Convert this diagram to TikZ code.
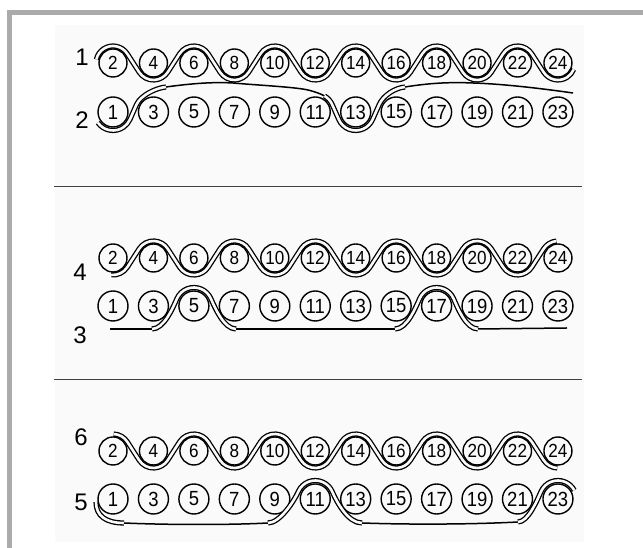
\documentclass[tikz,border=0pt]{standalone}
\usepackage{fontspec}
\setmainfont{Liberation Sans}
\newfontfamily\pegfont[FakeStretch=0.9]{Liberation Sans}
\usetikzlibrary{calc}

\definecolor{paper}{gray}{0.982}
\definecolor{framegray}{gray}{0.67}

\begin{document}
\begin{tikzpicture}[x=1pt, y=1pt,
    evenpeg/.style={circle, draw, line width=1.4pt, minimum size=28pt, inner sep=0pt,
      font=\pegfont\fontsize{19}{19}\selectfont},
    oddpeg/.style={circle, draw, line width=1.4pt, minimum size=30pt, inner sep=0pt,
      font=\pegfont\fontsize{20.5}{20.5}\selectfont},
    rowlabel/.style={font=\fontsize{24}{24}\selectfont},
    wire/.style={draw=black, line width=1.3pt, double=paper, double distance=2.6pt,
      line join=round},
    cord/.style={line width=1.5pt},
    rule/.style={line width=1pt, black!75}]
  \useasboundingbox (0,0) rectangle (643,548);
  \fill[white] (0,0) rectangle (643,548);
  \fill[paper] (55,6) rectangle (584,523);
  \fill[framegray] (7,533) rectangle (643,538);
  \fill[framegray] (7,0) rectangle (12,538);

  % pegs: a = rows 1/2, b = rows 4/3, c = rows 6/5
  \foreach \s/\ye/\yo in {a/485/436, b/290/242, c/97/49} {
    \foreach \k [evaluate=\k as \ev using int(2*\k+2),
                 evaluate=\k as \od using int(2*\k+1)] in {0,...,11} {
      \node[evenpeg] (\s\ev) at (113+40.45*\k, \ye) {\ev};
      \node[oddpeg] (\s\od) at (113+40.45*\k, \yo) {\od};
    }
  }

  \node[rowlabel] (r1) at (82,491) {1};
  \node[rowlabel] (r2) at (82,428) {2};
  \node[rowlabel] (r4) at (80,276) {4};
  \node[rowlabel] (r3) at (80,213) {3};
  \node[rowlabel] (r6) at (81,111) {6};
  \node[rowlabel] (r5) at (81,46) {5};

  \draw[rule] (54,361.5) -- (582,361.5);
  \draw[rule] (54,168) -- (582,168);

  % rows 1/2
  \draw[wire] ($(a2)+(168:17)$) arc[start angle=168, end angle=32.8, radius=17]
    \foreach \i/\j in {4/6, 8/10, 12/14, 16/18, 20/22} {
      -- ($(a\i)+(212.8:17)$) arc[start angle=212.8, end angle=327.2, radius=17]
      -- ($(a\j)+(147.2:17)$) arc[start angle=147.2, end angle=32.8, radius=17]
    }
    -- ($(a24)+(212.8:17)$) arc[start angle=212.8, end angle=338, radius=17];
  \draw[wire] ($(a1)+(215:18.5)$) arc[start angle=215, end angle=336.2, radius=18.5]
    -- ($(a3)+(156.2:18.5)$) .. controls +(66.2:10) and +(185:10) .. (166,461);
  \draw[cord] (166,461) .. controls (195,465) and (215,466) .. (233,465)
    .. controls (255,463) and (295,461) .. (308,458)
    .. controls (316,456) and (321,454) .. ($(a11)+(60:18.5)$);
  \draw[wire] ($(a11)+(60:18.5)$) arc[start angle=60, end angle=23.8, radius=18.5]
    -- ($(a13)+(203.8:18.5)$) arc[start angle=203.8, end angle=336.2, radius=18.5]
    -- ($(a15)+(156.2:18.5)$) .. controls +(66.2:10) and +(185:10) .. (405,461);
  \draw[cord] (405,461) .. controls (430,465) and (450,466) .. (473,465)
    .. controls (505,464) and (545,459) .. (573,455);

  % rows 4/3
  \draw[wire] ($(b2)+(264:17)$) arc[start angle=264, end angle=327.2, radius=17]
    \foreach \i/\j in {4/6, 8/10, 12/14, 16/18, 20/22} {
      -- ($(b\i)+(147.2:17)$) arc[start angle=147.2, end angle=32.8, radius=17]
      -- ($(b\j)+(212.8:17)$) arc[start angle=212.8, end angle=327.2, radius=17]
    }
    -- ($(b24)+(147.2:17)$) arc[start angle=147.2, end angle=95, radius=17];
  \draw[cord] (110,219) -- (152,219);
  \draw[wire] (152,219) .. controls +(0:12) and +(246.2:10) .. ($(b5)+(156.2:18.5)$)
    arc[start angle=156.2, end angle=23.8, radius=18.5]
    .. controls +(293.8:10) and +(180:12) .. (236,219);
  \draw[cord] (236,219) -- (395,219);
  \draw[wire] (395,219) .. controls +(0:12) and +(246.2:10) .. ($(b17)+(156.2:18.5)$)
    arc[start angle=156.2, end angle=23.8, radius=18.5]
    .. controls +(293.8:10) and +(180:12) .. (478,219);
  \draw[cord] (478,219) -- (567,220);

  % rows 6/5
  \draw[wire] ($(c2)+(88:17)$) arc[start angle=88, end angle=32.8, radius=17]
    \foreach \i/\j in {4/6, 8/10, 12/14, 16/18, 20/22} {
      -- ($(c\i)+(212.8:17)$) arc[start angle=212.8, end angle=327.2, radius=17]
      -- ($(c\j)+(147.2:17)$) arc[start angle=147.2, end angle=32.8, radius=17]
    }
    -- ($(c24)+(212.8:17)$) arc[start angle=212.8, end angle=268, radius=17];
  \draw[wire] (96,46) .. controls (96,32) and (106,25) .. (124,25);
  \draw[cord] (124,25) .. controls (170,23) and (230,23) .. (268,25);
  \draw[wire] (268,25) .. controls +(0:12) and +(246.2:10) .. ($(c11)+(156.2:18.5)$)
    arc[start angle=156.2, end angle=23.8, radius=18.5]
    .. controls +(293.8:12) and +(180:14) .. (362,25);
  \draw[cord] (362,25) .. controls (420,23) and (480,24) .. (518,26);
  \draw[wire] (518,26) .. controls +(0:10) and +(246.2:10) .. ($(c23)+(156.2:18.5)$)
    arc[start angle=156.2, end angle=28, radius=18.5];
\end{tikzpicture}
\end{document}
